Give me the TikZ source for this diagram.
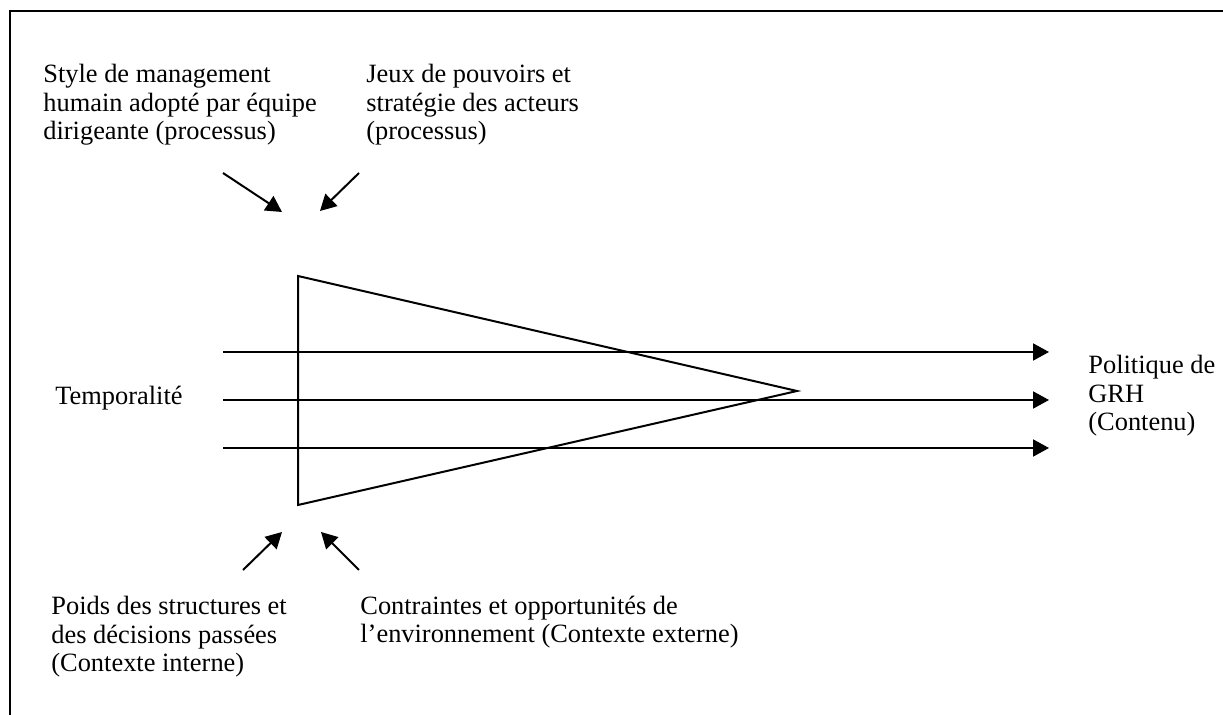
\documentclass[tikz,border=0pt]{standalone}
\usepackage{fontspec}
\setmainfont{Liberation Serif}
\usetikzlibrary{arrows.meta,positioning}

\begin{document}
\begin{tikzpicture}[x=0.5pt,y=-0.5pt,
  txt/.style={anchor=base west,inner sep=0pt,align=left,font=\fontsize{13.2}{14.4}\selectfont},
  fl/.style={-{Triangle[length=8pt,width=8.5pt]},line width=1pt}]
\useasboundingbox (0,0) rectangle (1223,715);
\draw[line width=1pt] (1223,11) -- (10,11) -- (10,715);
% textes (base = derniere ligne)
\node[txt] (style) at (43,140) {Style de management\\humain adopté par équipe\\dirigeante (processus)};
\node[txt] (jeux) at (366,140) {Jeux de pouvoirs et\\stratégie des acteurs\\(processus)};
\node[txt] (poids) at (51,672) {Poids des structures et\\des décisions passées\\(Contexte interne)};
\node[txt] (contr) at (360,643) {Contraintes et opportunités de\\l’environnement (Contexte externe)};
\node[txt] (temp) at (55,405) {Temporalité};
\node[txt] (grh) at (1088,431) {Politique de\\GRH\\(Contenu)};
% triangle
\draw[line width=1pt,line join=miter] (298,276) -- (797,391) -- (298,505) -- cycle;
% fleches horizontales
\coordinate (h1a) at (223,352); \coordinate (h1b) at (1049,352);
\coordinate (h2a) at (223,400); \coordinate (h2b) at (1049,400);
\coordinate (h3a) at (223,448); \coordinate (h3b) at (1049,448);
\draw[fl] (h1a) -- (h1b);
\draw[fl] (h2a) -- (h2b);
\draw[fl] (h3a) -- (h3b);
% fleches obliques
\coordinate (s1) at (223,173); \coordinate (t1) at (282,212);
\coordinate (s2) at (359,173); \coordinate (t2) at (320,211);
\coordinate (s3) at (243,570); \coordinate (t3) at (282,532);
\coordinate (s4) at (359,570); \coordinate (t4) at (321,532);
\draw[fl] (s1) -- (t1);
\draw[fl] (s2) -- (t2);
\draw[fl] (s3) -- (t3);
\draw[fl] (s4) -- (t4);
\end{tikzpicture}
\end{document}
